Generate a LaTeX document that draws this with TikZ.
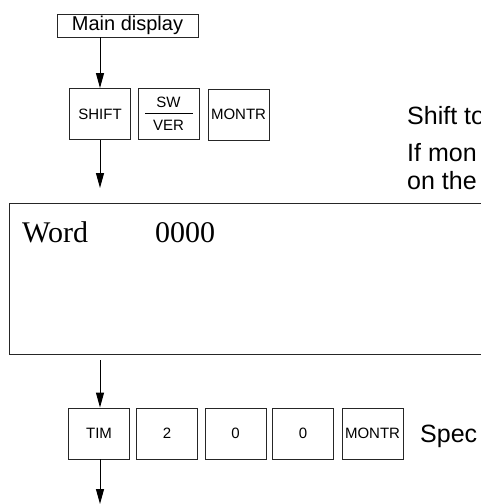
\documentclass[tikz,border=0pt]{standalone}
\usepackage{fontspec}
\setmainfont{Liberation Sans}
\newfontfamily\seriffont{Liberation Serif}
\usetikzlibrary{arrows.meta}
\begin{document}
\begin{tikzpicture}[x=1pt,y=-1pt,
  keybox/.style={draw=black!85, line width=0.9pt, minimum width=61pt, minimum height=51pt, inner sep=0pt, font=\fontsize{15}{15}\selectfont},
  arr/.style={line width=1pt, -{Triangle[length=15pt,width=8pt]}},
  side/.style={anchor=base west, inner sep=0pt, font=\fontsize{25}{25}\selectfont},
  disp/.style={anchor=base west, inner sep=0pt, font=\seriffont\fontsize{30}{30}\selectfont}]
\useasboundingbox (0,0) rectangle (481,504);
% main display
\node[draw=black!85, line width=0.9pt, minimum width=141pt, minimum height=23pt, inner sep=0pt, font=\fontsize{20}{20}\selectfont] (main) at (127.5,25.5) {Main display};
% top keys
\node[keybox] (shift) at (100,114) {SHIFT};
\node[keybox] (swver) at (168.5,113.5) {};
\node[anchor=base, inner sep=0pt, font=\fontsize{15}{15}\selectfont] (sw) at (168.5,107) {SW};
\node[anchor=base, inner sep=0pt, font=\fontsize{15}{15}\selectfont] (ver) at (168.5,130) {VER};
\draw[line width=0.9pt] (145,113) -- (193,113);
\node[keybox] (montr1) at (238.5,114.5) {MONTR};
% side texts
\node[side] (t1) at (407,124) {Shift to};
\node[side] (t2) at (407,161) {If mon};
\node[side] (t3) at (407,189) {on the};
% display
\node[draw=black!85, line width=1pt, minimum width=511pt, minimum height=151pt, inner sep=0pt] (display) at (265,279) {};
\node[disp] (word) at (22,242) {Word};
\node[disp] (val) at (155,242) {0000};
% bottom keys
\node[keybox] (tim) at (99,433.5) {TIM};
\node[keybox] (k2) at (167,433.5) {2};
\node[keybox] (k0a) at (235.5,433.5) {0};
\node[keybox] (k0b) at (303,433.5) {0};
\node[keybox] (montr2) at (372.5,433.5) {MONTR};
\node[side] (t4) at (420,442) {Spec};
% connectors
\coordinate (c1) at (100,188);
\coordinate (c2) at (100,360);
\coordinate (c3) at (100,504);
\draw[arr] (main.south -| shift.north) -- (shift.north);
\draw[arr] (shift.south) -- (c1);
\draw[arr] (c2) -- (tim.north -| c2);
\draw[arr] (tim.south -| c3) -- (c3);
\end{tikzpicture}
\end{document}
